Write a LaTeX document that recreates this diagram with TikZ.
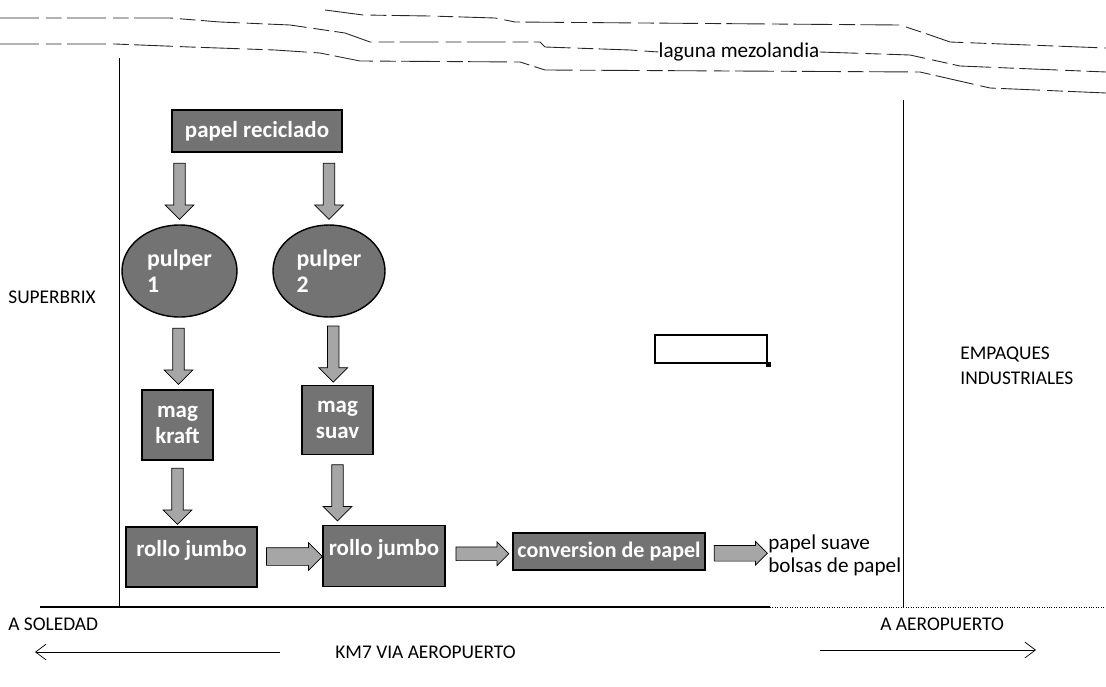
\documentclass[tikz,border=0pt]{standalone}
\usepackage{fontspec}
\setmainfont{Carlito}
\usepackage{tikz}
\usetikzlibrary{arrows.meta,calc,positioning,shapes.geometric,shapes.arrows}
\newcommand{\pxu}{0.567pt}
\tikzset{
  proceso/.style={rectangle,draw=black,thick,fill=black!55,text=white,inner sep=0pt,
    font=\fontsize{13}{13}\selectfont\bfseries},
  pulper/.style={ellipse,draw=black,thick,fill=black!55,text=white,inner sep=0pt,align=left,
    font=\fontsize{13.5}{15}\selectfont\bfseries},
  flecha/.style={single arrow,draw=black,fill=black!35,inner xsep=0pt,inner ysep=5.3*\pxu,
    single arrow head extend=8.7*\pxu,minimum height=56*\pxu},
  orilla/.style={black!85,line width=0.5pt,dash pattern=on 22pt off 4pt on 9pt off 3pt},
  rotulo/.style={font=\fontsize{11}{14}\selectfont,inner sep=0pt}
}
\begin{document}
\begin{tikzpicture}[x=0.567pt,y=-0.567pt]
\useasboundingbox (0,0) rectangle (1106,686);
% laguna
\node[rotulo,font=\fontsize{12}{14}\selectfont] (laguna) at (739,52) {laguna mezolandia};
\draw[orilla] (325,10) -- (363,15) -- (430,16) -- (495,18) -- (515,22) -- (900,25) -- (930,35) -- (950,42) -- (1106,48);
\draw[orilla] (0,18) -- (170,18) -- (220,22) -- (290,25) -- (345,33) -- (370,42) -- (540,42) -- (545,47) -- (630,50) -- (laguna.west);
\draw[orilla] (laguna.east) -- (910,55) -- (960,66) -- (1106,72);
\draw[orilla] (0,44) -- (115,44) -- (190,47) -- (275,50) -- (320,53) -- (360,61) -- (520,62) -- (545,70) -- (920,72) -- (990,88) -- (1106,93);
% limites
\draw[thin] (119,58) -- (119,607);
\draw[thin] (903,100) -- (903,607);
\draw[line width=0.8pt] (40,607) -- (770,607);
\draw[thin,densely dotted] (770,607) -- (1106,607);
% vecinos
\node[rotulo,anchor=west] (superbrix) at (8,297) {SUPERBRIX};
\node[rotulo,anchor=west,align=left] (empaques) at (960,366) {EMPAQUES\\INDUSTRIALES};
\node[rotulo,anchor=west] (soledad) at (8,624) {A SOLEDAD};
\node[rotulo,anchor=west] (aeropuerto) at (880,624) {A AEROPUERTO};
\node[rotulo,anchor=west] (via) at (335,652) {KM7 VIA AEROPUERTO};
\coordinate (izq) at (35,652);
\coordinate (der) at (1036,650);
\draw[-{Straight Barb[length=6pt,width=9pt]}] (280,652) -- (izq);
\draw[-{Straight Barb[length=6pt,width=9pt]}] (820,650) -- (der);
% proceso
\node[proceso,minimum width=170*\pxu,minimum height=42*\pxu] (reciclado) at (257,131) {papel reciclado};
\node[pulper,minimum width=115*\pxu,minimum height=92*\pxu] (p1) at (179.5,271) {pulper\\1};
\node[pulper,minimum width=112*\pxu,minimum height=92*\pxu] (p2) at (329,271) {pulper\\2};
\node[proceso,align=center,font=\fontsize{13}{15}\selectfont\bfseries,minimum width=71*\pxu,minimum height=70*\pxu] (kraft) at (177.5,425) {mag\\kraft};
\node[proceso,align=center,font=\fontsize{13}{15}\selectfont\bfseries,minimum width=71*\pxu,minimum height=69*\pxu] (suav) at (337.5,420) {mag\\suav};
\node[proceso,text depth=10pt,minimum width=131*\pxu,minimum height=60*\pxu] (jumbo1) at (191.5,557) {rollo jumbo};
\node[proceso,text depth=10pt,minimum width=122*\pxu,minimum height=61*\pxu] (jumbo2) at (384,556) {rollo jumbo};
\node[proceso,font=\fontsize{12.5}{13}\selectfont\bfseries,minimum width=192*\pxu,minimum height=37*\pxu] (conv) at (609,551.5) {conversion de papel};
\node[rotulo,anchor=west,align=left,font=\fontsize{12}{13}\selectfont] (salida) at (768,555) {papel suave\\bolsas de papel};
\node[draw=black,thick,minimum width=112*\pxu,minimum height=28*\pxu,inner sep=0pt] (marco) at (711,349) {};
\fill (marco.south east) ++(-2,-2) rectangle ++(5,5);
% flechas
\node[flecha,rotate=-90] at ($(reciclado.south -| p1)!0.5!(p1.north)$) {};
\node[flecha,rotate=-90] at ($(reciclado.south -| p2)!0.5!(p2.north)$) {};
\node[flecha,rotate=-90] at ($(p1.south)!0.5!(kraft.north)$) {};
\node[flecha,rotate=-90] at ($(p2.south)!0.5!(suav.north)$) {};
\node[flecha,rotate=-90] at ($(kraft.south)!0.5!(jumbo1.north -| kraft)$) {};
\node[flecha,rotate=-90] at ($(suav.south)!0.5!(jumbo2.north -| suav)$) {};
\node[flecha,inner ysep=8.5*\pxu,single arrow head extend=5*\pxu] at ($(jumbo1.east)!0.5!(jumbo2.west)$) {};
\node[flecha,minimum height=53*\pxu,inner ysep=6.5*\pxu,single arrow head extend=5*\pxu] at ($(jumbo2.east)!0.5!(conv.west)$) {};
\node[flecha,minimum height=53*\pxu,inner ysep=7.5*\pxu,single arrow head extend=4*\pxu] at ($(conv.east)!0.5!(salida.west)$) {};
\end{tikzpicture}
\end{document}
